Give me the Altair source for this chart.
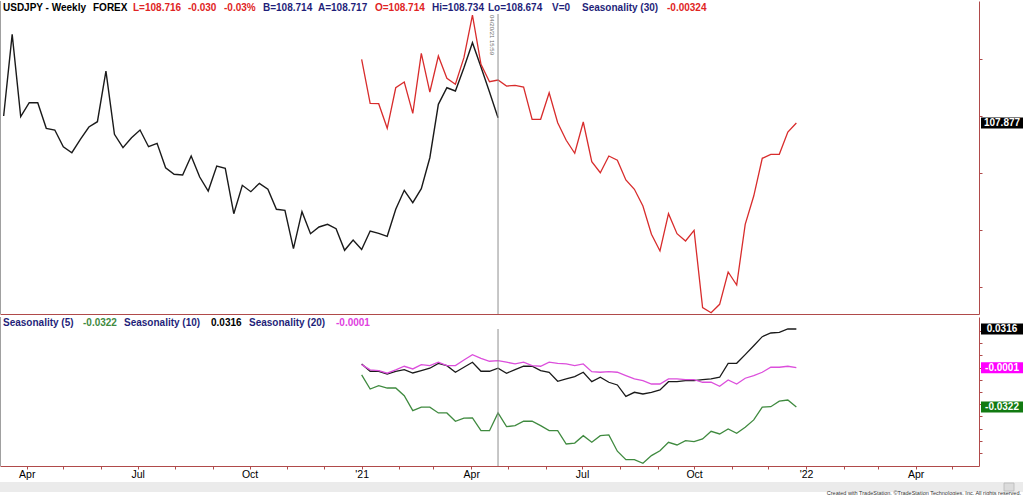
import altair as alt
import pandas as pd

FONT = "Liberation Sans"
NAVY = "#1f1f7a"
RED = "#e02424"
LINE_RED = "#d82c2c"
GREEN = "#3f8a3f"
MAGENTA = "#dc4fdc"
AX = "#b04a4a"

# ---------------- data ----------------
# weekly USDJPY price (black, upper panel), starting week of 2020-03-13
price_actual = [108.000, 109.433, 107.988, 108.233, 108.233, 107.784, 107.754, 107.461, 107.356, 107.591,
                107.807, 107.900, 108.789, 107.679, 107.444, 107.619, 107.754, 107.461, 107.521, 107.093,
                106.977, 106.965, 107.298, 106.930, 106.684, 107.123, 107.082, 106.286, 106.784, 106.672,
                106.819, 106.714, 106.363, 106.346, 105.672, 106.321, 105.935, 106.053, 106.100, 106.023,
                105.644, 105.825, 105.658, 105.982, 105.942, 105.889, 106.363, 106.696, 106.479, 106.725,
                107.268, 108.205, 108.496, 108.439, 108.847, 109.286, 108.860, 108.421, 107.970]

# Seasonality (30) projection (red), starting week 43 (early Jan 2021)
seasonality_30 = [108.995, 108.223, 108.216, 107.784, 108.496, 108.596, 108.047, 109.100, 108.421, 109.053,
                  108.661, 108.556, 109.023, 109.772, 108.907, 108.602, 108.632, 108.526, 108.539, 108.509,
                  107.942, 107.942, 108.409, 107.882, 107.574, 107.346, 107.895, 107.198, 107.005, 107.298,
                  107.223, 106.877, 106.714, 106.421, 105.925, 105.632, 106.286, 105.935, 105.807, 105.995,
                  104.637, 104.549, 104.696, 105.263, 105.035, 106.100, 106.596, 107.258, 107.328, 107.328,
                  107.719, 107.877]

# lower panel seasonality curves
seas_5 = [-0.0060, -0.0175, -0.0148, -0.0167, -0.0167, -0.0230, -0.0352, -0.0324, -0.0324, -0.0371,
          -0.0371, -0.0439, -0.0414, -0.0412, -0.0516, -0.0516, -0.0371, -0.0483, -0.0475, -0.0439,
          -0.0439, -0.0475, -0.0516, -0.0516, -0.0625, -0.0617, -0.0557, -0.0611, -0.0557, -0.0551,
          -0.0684, -0.0753, -0.0753, -0.0783, -0.0720, -0.0680, -0.0611, -0.0633, -0.0598, -0.0606,
          -0.0584, -0.0521, -0.0543, -0.0502, -0.0537, -0.0488, -0.0428, -0.0324, -0.0320, -0.0275,
          -0.0265, -0.0322]
seas_10 = [0.0030, -0.0030, -0.0030, -0.0052, -0.0030, -0.0017, -0.0044, -0.0025, -0.0005, 0.0035,
           0.0016, -0.0038, 0.0003, 0.0044, -0.0030, -0.0030, -0.0005, -0.0046, -0.0017, 0.0011,
           0.0011, -0.0025, -0.0038, -0.0112, -0.0093, -0.0074, -0.0038, -0.0115, -0.0079, -0.0120,
           -0.0142, -0.0235, -0.0202, -0.0216, -0.0202, -0.0183, -0.0115, -0.0115, -0.0107, -0.0107,
           -0.0099, -0.0093, -0.0079, 0.0035, 0.0035, 0.0106, 0.0179, 0.0253, 0.0283, 0.0289,
           0.0316, 0.0316]
seas_20 = [0.0024, -0.0019, -0.0025, -0.0046, -0.0019, 0.0011, -0.0011, 0.0024, 0.0016, 0.0044,
           0.0016, 0.0016, 0.0062, 0.0106, 0.0076, 0.0052, 0.0057, 0.0044, 0.0030, 0.0044,
           0.0016, 0.0011, 0.0044, 0.0035, 0.0030, 0.0016, 0.0030, -0.0033, -0.0038, -0.0033,
           -0.0038, -0.0066, -0.0093, -0.0107, -0.0134, -0.0134, -0.0093, -0.0093, -0.0099, -0.0099,
           -0.0120, -0.0120, -0.0153, -0.0101, -0.0134, -0.0087, -0.0066, -0.0038, 0.0003, 0.0003,
           0.0011, -0.0001]

header_top = [
    ("USDJPY - Weekly", 3, "black"),
    ("FOREX", 93, "black"),
    ("L=108.716", 133, RED),
    ("-0.030", 188, RED),
    ("-0.03%", 224, RED),
    ("B=108.714", 263, NAVY),
    ("A=108.717", 318, NAVY),
    ("O=108.714", 375, RED),
    ("Hi=108.734", 432, NAVY),
    ("Lo=108.674", 488, NAVY),
    ("V=0", 552, NAVY),
    ("Seasonality (30)", 582, NAVY),
    ("-0.00324", 667, RED),
]
header_bottom = [
    ("Seasonality (5)", 3, NAVY),
    ("-0.0322", 83, GREEN),
    ("Seasonality (10)", 124, NAVY),
    ("0.0316", 211, "black"),
    ("Seasonality (20)", 249, NAVY),
    ("-0.0001", 336, "#e040e0"),
]

# ---------------- tables ----------------
dates = pd.date_range("2020-03-13", periods=94, freq="7D").strftime("%Y-%m-%d").tolist()
actual_df = pd.DataFrame({"date": dates[:59], "v": price_actual})
s30_df = pd.DataFrame({"date": dates[42:94], "v": seasonality_30})
low_df = pd.DataFrame({"date": dates[42:94], "s5": seas_5, "s10": seas_10, "s20": seas_20})
cursor_df = pd.DataFrame({"date": [dates[58]]})
box_top = pd.DataFrame({"v": [seasonality_30[-1]], "lab": ["107.877"], "c": ["black"]})
box_bot = pd.DataFrame({"v": [seas_10[-1], seas_20[-1], seas_5[-1]],
                        "lab": ["0.0316", "-0.0001", "-0.0322"],
                        "c": ["black", "#ff00ff", "#127a12"]})

W, H1, H2 = 979, 313, 149

x_scale = alt.Scale(type="utc", domain=[alt.DateTime(year=2020, month=3, date=10, utc=True),
                                        alt.DateTime(year=2022, month=5, date=23, utc=True)])
month_vals = []
for yy in (2020, 2021, 2022):
    for mm in range(1, 13):
        if (yy == 2020 and mm < 4) or (yy == 2022 and mm > 5):
            continue
        month_vals.append(alt.DateTime(year=yy, month=mm, date=1, utc=True))

label_expr = ("utcmonth(datum.value) == 0 ? \"'\" + utcFormat(datum.value, '%y') : "
              "(utcmonth(datum.value) % 3 == 0 ? utcFormat(datum.value, '%b') : '')")

x_top = alt.X("date:T", scale=x_scale,
              axis=alt.Axis(orient="bottom", labels=False, ticks=False, domain=True,
                            domainColor=AX, grid=False, title=None))
x_bot = alt.X("date:T", scale=x_scale,
              axis=alt.Axis(orient="bottom", values=month_vals, labelExpr=label_expr,
                            labelOverlap=False, labelFlush=False, tickSize=3, tickColor=AX,
                            domainColor=AX, labelFont=FONT, labelFontSize=10.5,
                            labelColor="black", labelPadding=0, grid=False, title=None))

top_y_scale = alt.Scale(domain=[104.526, 110.018], nice=False, zero=False)
top_y_axis = alt.Axis(orient="right", labels=False, ticks=True, tickSize=3, tickColor=AX,
                      domainColor=AX, values=[105, 106, 107, 108, 109], grid=False, title=None)
bot_y_scale = alt.Scale(domain=[-0.0805, 0.0414], nice=False, zero=False)
bot_y_axis = alt.Axis(orient="right", labels=False, ticks=True, tickSize=3, tickColor=AX,
                      domainColor=AX,
                      values=[-0.07, -0.06, -0.05, -0.04, -0.03, -0.02, -0.01, 0.0, 0.01, 0.02, 0.03],
                      grid=False, title=None)


def ytop(f):
    return alt.Y(f"{f}:Q", scale=top_y_scale, axis=top_y_axis)


def ybot(f):
    return alt.Y(f"{f}:Q", scale=bot_y_scale, axis=bot_y_axis)


def txt(text, x, y, color, size=10, bold=True, align="left", baseline="middle", angle=0, font=FONT):
    return alt.Chart(pd.DataFrame({"t": [text]})).mark_text(
        align=align, baseline=baseline, font=font, fontSize=size,
        fontWeight="bold" if bold else "normal", color=color, angle=angle
    ).encode(x=alt.value(x), y=alt.value(y), text="t:N")


# ---------------- upper panel ----------------
black_line = alt.Chart(actual_df).mark_line(color="#1a1a1a", strokeWidth=1.4).encode(x=x_top, y=ytop("v"))
red_line = alt.Chart(s30_df).mark_line(color=LINE_RED, strokeWidth=1.3).encode(x=x_top, y=ytop("v"))
cursor_top = alt.Chart(cursor_df).mark_rule(color="#909090", strokeWidth=1).encode(
    x=x_top, y=alt.value(13), y2=alt.value(H1))
left_top = alt.Chart(cursor_df).mark_rule(color="#a0a0a0").encode(
    x=alt.value(0.5), y=alt.value(0), y2=alt.value(H1))
date_lbl = txt("04/20/21 15:59", 492, 14, "#707070", size=6, bold=False, angle=90)
box_t = alt.Chart(box_top).mark_tick(thickness=11, size=42, opacity=1).encode(
    x=alt.value(1002), y=ytop("v"), color=alt.Color("c:N", scale=None))
box_t_txt = alt.Chart(box_top).mark_text(color="white", font=FONT, fontSize=10, fontWeight="bold",
                                          align="center", baseline="middle").encode(
    x=alt.value(1002), y=ytop("v"), text="lab:N")

top_layers = [black_line, red_line, cursor_top, left_top, date_lbl, box_t, box_t_txt]
top_layers += [txt(t, x, 7, c) for t, x, c in header_top]
top = alt.layer(*top_layers).properties(width=W, height=H1)

# ---------------- lower panel ----------------
g_line = alt.Chart(low_df).mark_line(color=GREEN, strokeWidth=1.3).encode(x=x_bot, y=ybot("s5"))
k_line = alt.Chart(low_df).mark_line(color="#1a1a1a", strokeWidth=1.3).encode(x=x_bot, y=ybot("s10"))
m_line = alt.Chart(low_df).mark_line(color=MAGENTA, strokeWidth=1.3).encode(x=x_bot, y=ybot("s20"))
cursor_bot = alt.Chart(cursor_df).mark_rule(color="#909090", strokeWidth=1).encode(
    x=x_bot, y=alt.value(12), y2=alt.value(H2))
left_bot = alt.Chart(cursor_df).mark_rule(color="#a0a0a0").encode(
    x=alt.value(0.5), y=alt.value(0), y2=alt.value(H2))
box_b = alt.Chart(box_bot).mark_tick(thickness=11, size=42, opacity=1).encode(
    x=alt.value(1002), y=ybot("v"), color=alt.Color("c:N", scale=None))
box_b_txt = alt.Chart(box_bot).mark_text(color="white", font=FONT, fontSize=10, fontWeight="bold",
                                         align="center", baseline="middle").encode(
    x=alt.value(1002), y=ybot("v"), text="lab:N")
scroll = alt.Chart(cursor_df).mark_rect(color="#ebebeb").encode(
    x=alt.value(0), x2=alt.value(1023), y=alt.value(165), y2=alt.value(175))
thumb = alt.Chart(cursor_df).mark_rect(fill="#dcdcdc", stroke="#b8b8b8", strokeWidth=0.8).encode(
    x=alt.value(1004), x2=alt.value(1014), y=alt.value(166), y2=alt.value(174))
copyright_txt = txt("Created with TradeStation. \u00a9TradeStation Technologies, Inc. All rights reserved.",
                    1021, 178, "#333333", size=5.5, bold=False, align="right", baseline="alphabetic")

bot_layers = [g_line, k_line, m_line, cursor_bot, left_bot, box_b, box_b_txt, scroll, thumb, copyright_txt]
bot_layers += [txt(t, x, 6, c) for t, x, c in header_bottom]
bottom = alt.layer(*bot_layers).properties(width=W, height=H2)

chart = alt.vconcat(top, bottom, spacing=0).properties(
    padding=0, background="white"
).configure_view(stroke=None)

chart.save("out.html", embed_options={"renderer": "svg", "actions": False})
